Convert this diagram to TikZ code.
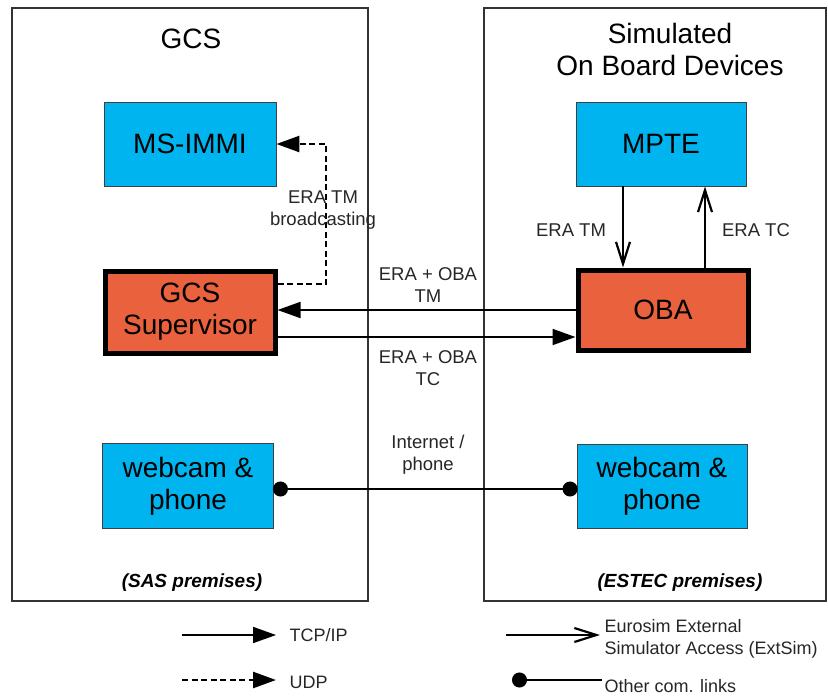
\documentclass[tikz,border=0pt]{standalone}
\usepackage{fontspec}
\setmainfont{Liberation Sans}
\usepackage{tikz}
\usetikzlibrary{arrows.meta}

\definecolor{devblue}{RGB}{0,180,240}
\definecolor{suporange}{RGB}{233,97,61}

\tikzset{
	panel/.style={draw=black!80,line width=1.6pt},
	devbox/.style={draw=black!75,line width=0.9pt,fill=devblue,align=center,
		inner sep=0pt,font=\fontsize{28}{32}\selectfont},
	mainbox/.style={draw=black,line width=5pt,fill=suporange,align=center,
		inner sep=0pt,font=\fontsize{28}{32}\selectfont},
	title/.style={align=center,font=\fontsize{28}{32}\selectfont},
	lbl/.style={align=center,text=black!85,font=\fontsize{18.5}{22}\selectfont},
	leg/.style={align=left,anchor=west,text=black!85,font=\fontsize{18}{22}\selectfont},
	site/.style={font=\fontsize{19}{22}\selectfont\bfseries\itshape},
	tcp/.style={line width=1.8pt,-{Triangle[length=23pt,width=16pt]}},
	udp/.style={tcp,line width=2.6pt,dash pattern=on 6pt off 3.5pt},
	extsim/.style={line width=1.8pt,-{Straight Barb[length=22pt,width=14pt,line width=2.2pt]}},
	link/.style={line width=1.8pt,{Circle[length=15pt]}-{Circle[length=15pt]}},
}

\begin{document}
\begin{tikzpicture}[x=1pt,y=-1pt]
		\useasboundingbox (0,0) rectangle (828,697);
%		\draw[help lines] (0,0) grid[step=50] (828,697);
		\path (326,284) coordinate (udp_low);
		\path (326,144) coordinate (udp_high);
		\path (0,310) coordinate (tm);
		\path (0,337) coordinate (tc);
		\path (623,0) coordinate (tmx);
		\path (705,0) coordinate (tcx);
		\path (182,635) coordinate (leg_tcp0);
		\path (276,635) coordinate (leg_tcp1);
		\path (182,680) coordinate (leg_udp0);
		\path (276,680) coordinate (leg_udp1);
		\path (506,635) coordinate (leg_ext0);
		\path (600,635) coordinate (leg_ext1);
		\path (512,680) coordinate (leg_oth0);
		\path (602,680) coordinate (leg_oth1);

		% the two sites
		\draw[panel] (12,8) rectangle (368,601);
		\draw[panel] (484,8) rectangle (826,601);
		\path (191,39) node(gcs) [title] {GCS};
		\path (670,49) node(sobd) [title] {Simulated\\On Board Devices};
		\path (192,583) node(sas) [site] {(SAS premises)};
		\path (680,583) node(estec) [site] {(ESTEC premises)};

		% devices
		\path (190,144) node(immi) [devbox,minimum width=172,minimum height=84] {MS-IMMI};
		\path (190,312) node(sup) [mainbox,minimum width=170,minimum height=82] {GCS\\Supervisor};
		\path (188,486) node(camL) [devbox,minimum width=171,minimum height=85] {webcam \&\\phone};
		\path (661,144) node(mpte) [devbox,minimum width=170,minimum height=84] {MPTE};
		\path (663,310) node(oba) [mainbox,minimum width=170,minimum height=80] {OBA};
		\path (662,486) node(camR) [devbox,minimum width=170,minimum height=84] {webcam \&\\phone};

		% links
		\draw[udp] (sup.east |- udp_low) -- (udp_low) -- (udp_high) -- (immi.east |- udp_high);
		\path (323,210) node(bcast) [lbl] {ERA TM\\broadcasting};
		\draw[tcp] (oba.west |- tm) -- (sup.east |- tm);
		\draw[tcp] (sup.east |- tc) -- (oba.west |- tc);
		\path (428,285) node(tmlbl) [lbl] {ERA + OBA\\TM};
		\path (428,368) node(tclbl) [lbl] {ERA + OBA\\TC};
		\draw[extsim] (mpte.south -| tmx) -- (oba.north -| tmx);
		\draw[extsim] (oba.north -| tcx) -- (mpte.south -| tcx);
		\path (571,230) node(eratm) [lbl] {ERA TM};
		\path (756,230) node(eratc) [lbl] {ERA TC};
		\draw[link] ([xshift=-1pt,yshift=-3pt]camL.east) -- ([xshift=1pt,yshift=-3pt]camR.west);
		\path (428,455) node(inet) [lbl] {Internet /\\phone};

		% legend
		\draw[tcp] (leg_tcp0) -- (leg_tcp1);
		\path (286,635) node(legtcp) [leg] {TCP/IP};
		\draw[udp] (leg_udp0) -- (leg_udp1);
		\path (286,682) node(legudp) [leg] {UDP};
		\draw[extsim] (leg_ext0) -- (leg_ext1);
		\path (601,639) node(legext) [leg] {Eurosim External\\Simulator Access (ExtSim)};
		\draw[line width=1.8pt,{Circle[length=15pt]}-] (leg_oth0) -- (leg_oth1);
		\path (601,686) node(legoth) [leg] {Other com. links};
	\end{tikzpicture}
\end{document}
